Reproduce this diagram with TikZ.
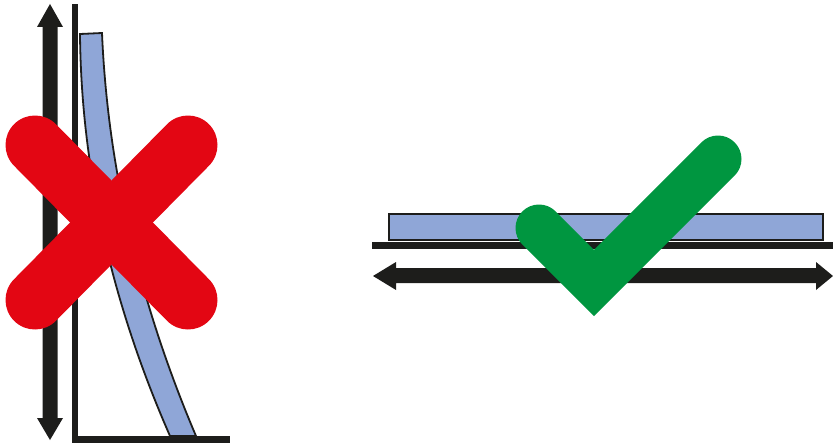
\documentclass[tikz,border=0pt]{standalone}
\definecolor{ink}{HTML}{1D1D1B}
\definecolor{beam}{HTML}{8FA6D7}
\definecolor{xred}{HTML}{E30613}
\definecolor{okgreen}{HTML}{009640}
\tikzset{
  solidblack/.style={fill=ink, draw=none},
  beamstyle/.style={fill=beam, draw=ink, line width=1.8pt},
  markstroke/.style={line width=#1, line cap=round, line join=miter},
}
\begin{document}
\begin{tikzpicture}[x=1pt,y=-1pt]
\useasboundingbox (0,0) rectangle (833,444);
% ---------- left: vertical case ----------
% double arrow
\fill[solidblack] (50,4) -- (63,27) -- (57.5,27) -- (57.5,418) -- (63,418) -- (50,440)
  -- (37,418) -- (42.5,418) -- (42.5,27) -- (37,27) -- cycle;
% wall and floor
\fill[solidblack] (72,4) rectangle (78,443);
\fill[solidblack] (72,436) rectangle (230,443);
% bent beam
\filldraw[beamstyle] (80,34) .. controls (81.2,168) and (111.2,302) .. (170,436)
  -- (196,436) .. controls (139.1,302.3) and (107.7,167.3) .. (102,33) -- cycle;
% red cross
\draw[xred, markstroke=59pt] (35,145) -- (188,300);
\draw[xred, markstroke=59pt] (188,145) -- (35,300);
% ---------- right: horizontal case ----------
\filldraw[beamstyle] (389,214) rectangle (823,240);
\fill[solidblack] (372,242) rectangle (833,249);
\fill[solidblack] (373,276) -- (396,262) -- (396,268) -- (816,268) -- (816,262) -- (833,276)
  -- (816,290) -- (816,283) -- (396,283) -- (396,290) -- cycle;
% green check
\draw[okgreen, markstroke=47pt] (539,228) -- (594,283) -- (718,159);
\end{tikzpicture}
\end{document}
